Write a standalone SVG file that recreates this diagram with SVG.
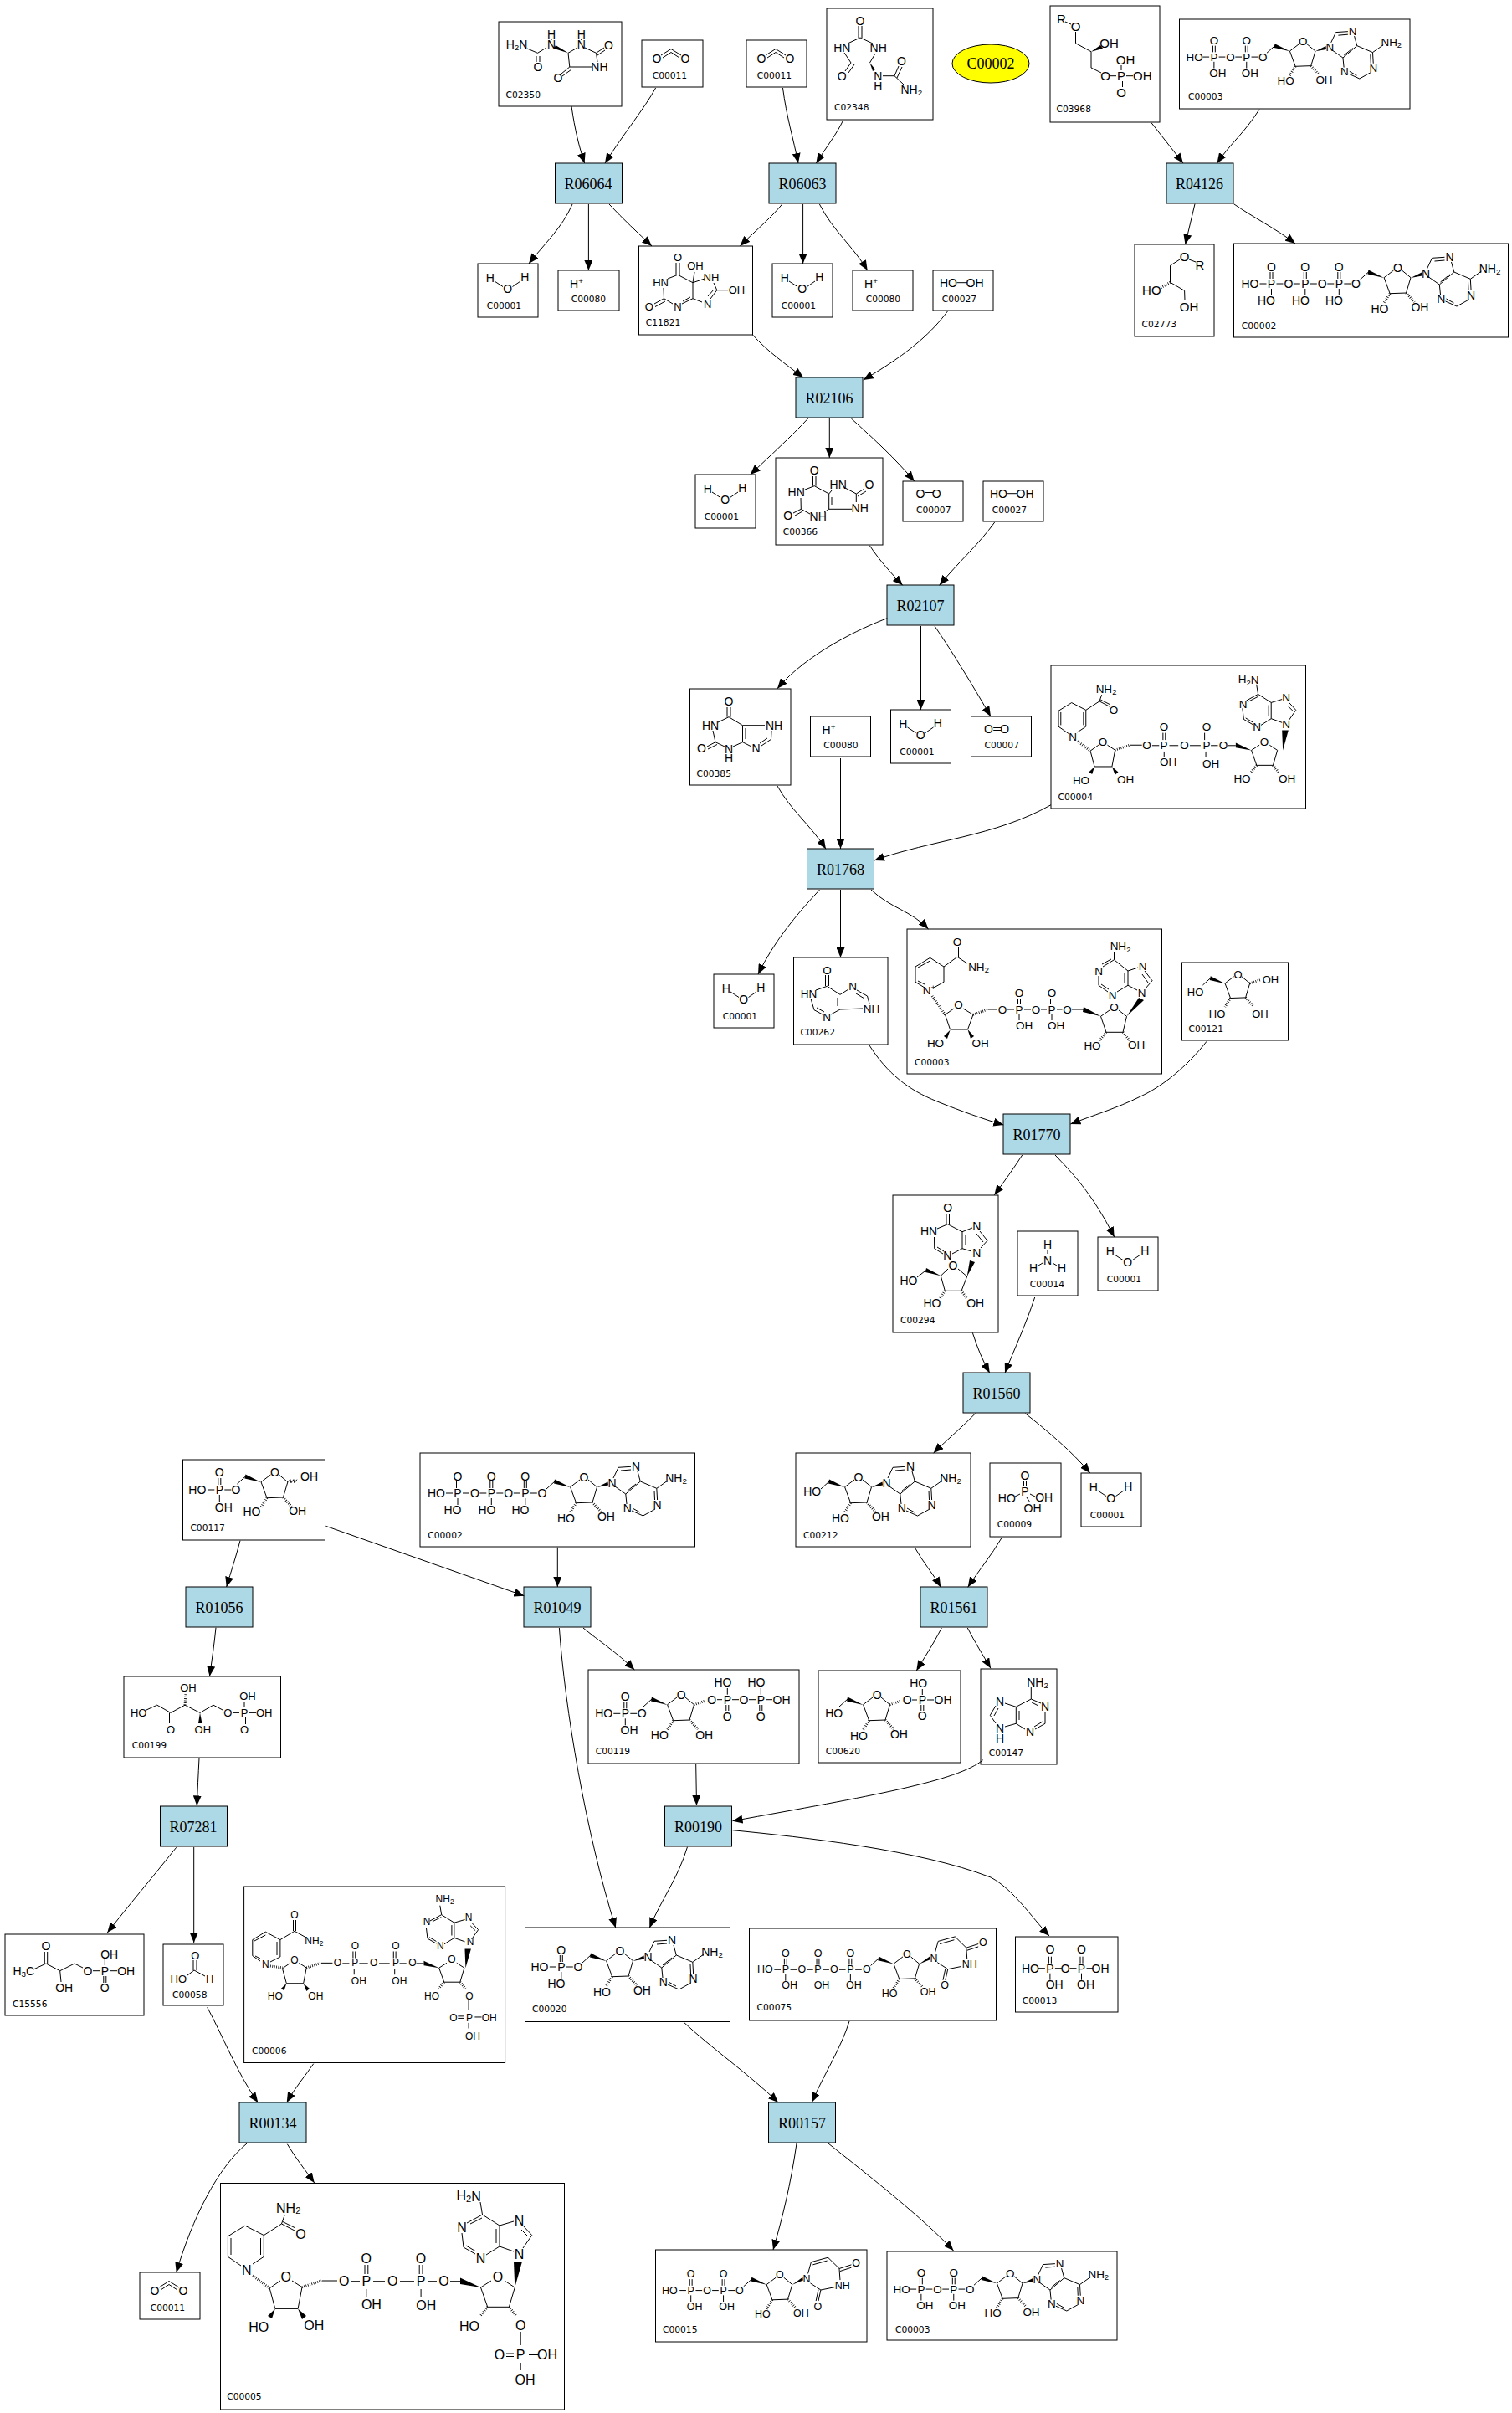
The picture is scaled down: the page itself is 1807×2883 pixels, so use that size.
<svg xmlns="http://www.w3.org/2000/svg" width="1807" height="2883" viewBox="0 0 1807 2883">
<style>
svg{font-size:14px}
.n{fill:#fff;stroke:#000;stroke-width:1}
.r{fill:#add8e6;stroke:#000;stroke-width:1}
.b{fill:none;stroke:#000;stroke-width:1;vector-effect:non-scaling-stroke}
.h{fill:none;stroke:#000;stroke-width:3;stroke-dasharray:.8 1.6;vector-effect:non-scaling-stroke}
.w{fill:#000;stroke:none}
.e{fill:none;stroke:#000;stroke-width:1;marker-end:url(#arr)}
.t{font-family:"Liberation Serif","Times New Roman",serif;font-size:18px;text-anchor:middle;dominant-baseline:central;fill:#000}
.l{font-family:"DejaVu Sans",sans-serif;font-size:10.7px;fill:#000}
.at text{font-family:"Liberation Sans",Arial,sans-serif;text-anchor:middle;dominant-baseline:central;fill:#000}
.s{font-size:.7em}
</style>
<defs>
<marker id="arr" viewBox="0 0 12 10" refX="12" refY="5" markerWidth="12" markerHeight="10" markerUnits="userSpaceOnUse" orient="auto"><path d="M0,0L12,5L0,10Z" fill="#000"/></marker>
<g id="P"><path class="b" d="M-14,0H-6M6,0H14M-1.5,-6V-14M1.5,-6V-14M0,6V14"/></g>
<g id="rib">
<path class="b" d="M151,43L161,34M179.6,40.7L191,32M201,32L211.5,40.7L206,59L186.6,59.7L179.6,40.7"/>
<polygon class="w" points="161,31.5 160,36.5 179.6,41"/>
<path class="h" d="M186.6,59.7L179.5,71M206,59L216,70"/>
</g>
<g id="pur">
<polygon class="w" points="211.5,41 224.5,34.5 225,38.5"/>
<path class="b" d="M231,30L237,17.3L252,16.3M240,21L252,20M260,22L263.3,34L245.8,49L233,40M258,37L247,46M263.3,34L282.8,42.3L296,33M282.8,42.3L283.6,56M280,45L280.5,56M281,67L266.5,75L253,69M263,71L254,66M247,61L245.8,49"/>
</g>
<g id="ura">
<polygon class="w" points="211.5,41 224.5,31.5 225,35.5"/>
<path class="b" d="M231,27L235,12.7L256,7L270,20.8L285,16M271,24L285,19.5M237,16L255,11M270,20.8L271,35M264,44L247,47.4L234,39M247,47.4L244,61M244,47L241,61"/>
</g>
<g id="wat"><path class="b" d="M20,21L30,27.5M41.5,27.5L51,21"/></g>
<g id="co2"><path class="b" d="M23,18L35,10.5L47,18M25,21L35,14.5L45,21"/></g>
<g id="nadh">
<path class="b" d="M336.5,2657L340,2647M336.5,2657L352,2665M338,2654.5L353,2662M315.3,2670.6L336.5,2657M315.3,2670.6L292.9,2659.2L272.4,2671.8V2696.3L288,2707M302,2705L315.3,2696.3V2670.6M276,2674V2694M311.5,2674V2694"/>
<path class="h" d="M302,2719L322.2,2733.9"/>
</g>
<g id="nadr">
<path class="b" d="M322.2,2733.9L335,2725M349,2725L361,2732.7L356.1,2758.4H328.8L322.2,2733.9M384.7,2725H403M419,2725.7H430M446,2725.7H460M478,2725.7H495M511,2725.7H522M436,2706V2717M439.8,2706V2717M437.8,2735V2744M501.2,2706V2717M505,2706V2717M503.1,2735V2744M538,2725.7H550M574.5,2733L587,2725M603,2725L615.3,2733L608.4,2756.3H582.7L574.5,2733"/>
<polygon class="w" points="328.8,2758.4 320,2767 325,2770"/>
<polygon class="w" points="356.1,2758.4 361,2771 366,2767"/>
<polygon class="w" points="550,2721.5 550,2729 574.5,2733"/>
<path class="h" d="M361,2732.7L384,2725M582.7,2756.3L574,2767M608.4,2756.3L617,2767"/>
</g>
<g id="nad2p"><path class="b" d="M622.2,2786V2802M622.2,2823V2832M605,2812H614M605,2815.5H614M632,2813.5H643"/></g>
<g id="nada">
<polygon class="w" points="615.3,2733 614,2702 624,2702"/>
<path class="b" d="M574,2631L576.5,2646L558,2656M576,2650L562,2657M552,2668L554,2685L568,2693M557,2683L568,2689.5M581,2694L597,2684V2659M593,2680V2663M597,2659L576.5,2646M597,2659L614,2654M625,2659L635.7,2670.6L625,2686M623,2664L631,2672M614,2690L597,2684"/>
</g>
</defs>
<rect width="1807" height="2883" fill="#fff"/>

<g id="C00002-yellow"><ellipse cx="1184" cy="76" rx="46" ry="23" fill="#ffff00" stroke="#000"/><text class="t" x="1184" y="76">C00002</text></g>

<g id="R06064"><rect class="r" x="663.5" y="195" width="80" height="48"/><text class="t" x="703" y="220">R06064</text></g>
<g id="R06063"><rect class="r" x="919" y="195" width="80" height="48"/><text class="t" x="959" y="220">R06063</text></g>
<g id="R04126"><rect class="r" x="1394" y="195" width="80" height="48"/><text class="t" x="1433.5" y="220">R04126</text></g>
<g id="R02106"><rect class="r" x="951" y="451" width="80" height="48"/><text class="t" x="991" y="476">R02106</text></g>
<g id="R02107"><rect class="r" x="1060" y="699" width="80" height="48"/><text class="t" x="1100" y="724">R02107</text></g>
<g id="R01768"><rect class="r" x="964.5" y="1014" width="80" height="48"/><text class="t" x="1004.5" y="1039">R01768</text></g>
<g id="R01770"><rect class="r" x="1199" y="1331" width="80" height="48"/><text class="t" x="1239" y="1356">R01770</text></g>
<g id="R01560"><rect class="r" x="1151" y="1640" width="80" height="48"/><text class="t" x="1191" y="1665">R01560</text></g>
<g id="R01561"><rect class="r" x="1100" y="1896" width="80" height="48"/><text class="t" x="1140" y="1921">R01561</text></g>
<g id="R01056"><rect class="r" x="222" y="1896" width="80" height="48"/><text class="t" x="262" y="1921">R01056</text></g>
<g id="R01049"><rect class="r" x="626" y="1896" width="80" height="48"/><text class="t" x="666" y="1921">R01049</text></g>
<g id="R07281"><rect class="r" x="191.5" y="2158" width="80" height="48"/><text class="t" x="231" y="2183">R07281</text></g>
<g id="R00190"><rect class="r" x="794.5" y="2158" width="80" height="48"/><text class="t" x="834.5" y="2183">R00190</text></g>
<g id="R00134"><rect class="r" x="286" y="2512" width="80" height="48"/><text class="t" x="326" y="2537">R00134</text></g>
<g id="R00157"><rect class="r" x="918.5" y="2512" width="80" height="48"/><text class="t" x="958.5" y="2537">R00157</text></g>

<g id="C02350"><rect class="n" x="596" y="26" width="147" height="101"/><text class="l" x="604.5" y="117">C02350</text>
<path class="b" d="M630,58L642.5,63.3L653,57M641,67V74M645,67V74M679,63.3L690,57M699,57L712.5,63.3L722,57M714,66L723,60M712.5,63.3L714,74M707,80H680.8L679,63.3M680.8,80L671,88M683,83L672,91M659,46V48M694.7,46V48"/><polygon class="w" points="679,63.3 664,54 662,58"/>
<g class="at"><text x="617.6" y="53.3">H<tspan class="s" dy="3">2</tspan><tspan dy="-3">N</tspan></text><text x="643" y="80">O</text><text x="659" y="53.3">N</text><text x="659" y="40.7">H</text><text x="694.7" y="53.3">N</text><text x="694.7" y="40.7">H</text><text x="727.5" y="54">O</text><text x="716.4" y="80.3">NH</text><text x="667" y="93.3">O</text></g></g>

<g id="C00011-a" transform="translate(767,48)"><rect class="n" width="73" height="56"/><text class="l" x="12.7" y="46">C00011</text><use href="#co2"/><g class="at"><text x="18" y="22">O</text><text x="52" y="22">O</text></g></g>
<g id="C00011-b" transform="translate(892,48)"><rect class="n" width="72" height="56"/><text class="l" x="12.7" y="46">C00011</text><use href="#co2"/><g class="at"><text x="18" y="22">O</text><text x="52" y="22">O</text></g></g>
<g id="C00011-c" transform="translate(167,2715)"><rect class="n" width="72" height="56"/><text class="l" x="12.7" y="46">C00011</text><use href="#co2"/><g class="at"><text x="18" y="22">O</text><text x="52" y="22">O</text></g></g>

<g id="C02348"><rect class="n" x="988" y="10" width="127" height="133"/><text class="l" x="997" y="131.7">C02348</text>
<path class="b" d="M1026,31V45M1030,31V45M1028,45L1013,52M1028,45L1043,52M1009,63L1017,75L1010,85M1021,77L1014,87M1046,64L1039.5,75M1055,90.7H1069L1074,79M1072,93L1078,80M1069,90.7L1080,101"/><polygon class="w" points="1039.5,75 1046,83 1043,85"/>
<g class="at"><text x="1028" y="25">O</text><text x="1006.3" y="57.3">HN</text><text x="1049.7" y="57.3">NH</text><text x="1006.3" y="90.7">O</text><text x="1049.4" y="90.7">N</text><text x="1049.4" y="102.7">H</text><text x="1077.4" y="73.3">O</text><text x="1089.3" y="106.7">NH<tspan class="s" dy="3">2</tspan></text></g></g>

<g id="C03968" transform="translate(-1,0)"><rect class="n" x="1256" y="7" width="131" height="139"/><text class="l" x="1263.5" y="134.3">C03968</text>
<path class="b" d="M1274,26L1281,29M1286.5,38V51.7L1305,61.7V81L1317,87M1328,90.7H1335M1347,90.7H1355M1341,84V78M1339.5,97V104M1342.5,97V104"/><polygon class="w" points="1305,61.7 1316,54 1319,58"/>
<g class="at" font-size="15"><text x="1269.3" y="22.3">R</text><text x="1286.5" y="31.7">O</text><text x="1326.6" y="51.7">OH</text><text x="1322" y="90.7">O</text><text x="1341" y="90.7">P</text><text x="1346" y="71.7">OH</text><text x="1366.3" y="90.7">OH</text><text x="1341" y="110.7">O</text></g></g>

<g id="C00003-top" transform="translate(-2,0)"><rect class="n" x="1411.5" y="23" width="275.5" height="107"/><text class="l" x="1422" y="119.3">C00003</text>
<g transform="translate(1371,22) scale(.96)"><use href="#P" x="85.3" y="48"/><use href="#P" x="125.8" y="48"/><use href="#rib"/><use href="#pur"/>
<g class="at"><text x="61" y="48">HO</text><text x="85.3" y="48">P</text><text x="85.3" y="28">O</text><text x="90" y="68">OH</text><text x="105.6" y="48">O</text><text x="125.8" y="48">P</text><text x="125.8" y="28">O</text><text x="130" y="68">OH</text><text x="146" y="48">O</text><text x="196" y="29">O</text><text x="229.5" y="35.7">N</text><text x="258" y="16.3">N</text><text x="306" y="29.7">NH<tspan class="s" dy="3">2</tspan></text><text x="283.6" y="62.3">N</text><text x="247.8" y="66.3">N</text><text x="174.5" y="78">HO</text><text x="222.4" y="76.3">OH</text></g></g></g>

<g id="C00001-a" transform="translate(571,315)"><rect class="n" width="72" height="64"/><text class="l" x="10.7" y="54">C00001</text><use href="#wat"/><g class="at"><text x="14.7" y="17">H</text><text x="35.7" y="29.7">O</text><text x="56.3" y="16.3">H</text></g></g>
<g id="C00001-b" transform="translate(923,315)"><rect class="n" width="72" height="64"/><text class="l" x="10.7" y="54">C00001</text><use href="#wat"/><g class="at"><text x="14.7" y="17">H</text><text x="35.7" y="29.7">O</text><text x="56.3" y="16.3">H</text></g></g>
<g id="C00001-c" transform="translate(831,567)"><rect class="n" width="72" height="64"/><text class="l" x="10.7" y="54">C00001</text><use href="#wat"/><g class="at"><text x="14.7" y="17">H</text><text x="35.7" y="29.7">O</text><text x="56.3" y="16.3">H</text></g></g>
<g id="C00001-d" transform="translate(1064.5,848)"><rect class="n" width="72" height="64"/><text class="l" x="10.7" y="54">C00001</text><use href="#wat"/><g class="at"><text x="14.7" y="17">H</text><text x="35.7" y="29.7">O</text><text x="56.3" y="16.3">H</text></g></g>
<g id="C00001-e" transform="translate(853,1164)"><rect class="n" width="72" height="64"/><text class="l" x="10.7" y="54">C00001</text><use href="#wat"/><g class="at"><text x="14.7" y="17">H</text><text x="35.7" y="29.7">O</text><text x="56.3" y="16.3">H</text></g></g>
<g id="C00001-f" transform="translate(1312,1478)"><rect class="n" width="72" height="64"/><text class="l" x="10.7" y="54">C00001</text><use href="#wat"/><g class="at"><text x="14.7" y="17">H</text><text x="35.7" y="29.7">O</text><text x="56.3" y="16.3">H</text></g></g>
<g id="C00001-g" transform="translate(1292,1760)"><rect class="n" width="72" height="64"/><text class="l" x="10.7" y="54">C00001</text><use href="#wat"/><g class="at"><text x="14.7" y="17">H</text><text x="35.7" y="29.7">O</text><text x="56.3" y="16.3">H</text></g></g>

<g id="C00080-a" transform="translate(667,323)"><rect class="n" width="73" height="48"/><text class="l" x="15.7" y="37.7">C00080</text><g class="at"><text x="22" y="16">H<tspan class="s" dy="-4">+</tspan></text></g></g>
<g id="C00080-b" transform="translate(1019,323)"><rect class="n" width="72" height="48"/><text class="l" x="15.7" y="37.7">C00080</text><g class="at"><text x="22" y="16">H<tspan class="s" dy="-4">+</tspan></text></g></g>
<g id="C00080-c" transform="translate(968.5,856)"><rect class="n" width="72" height="48"/><text class="l" x="15.7" y="37.7">C00080</text><g class="at"><text x="22" y="16">H<tspan class="s" dy="-4">+</tspan></text></g></g>

<g id="C00027-a" transform="translate(1115,323)"><rect class="n" width="72" height="48"/><text class="l" x="10.7" y="37.7">C00027</text><path class="b" d="M28.5,14.7H41"/><g class="at"><text x="18.5" y="14.7">HO</text><text x="50" y="14.7">OH</text></g></g>
<g id="C00027-b" transform="translate(1175,575)"><rect class="n" width="72" height="48"/><text class="l" x="10.7" y="37.7">C00027</text><path class="b" d="M28.5,14.7H41"/><g class="at"><text x="18.5" y="14.7">HO</text><text x="50" y="14.7">OH</text></g></g>
<g id="C00007-a" transform="translate(1079,575)"><rect class="n" width="72" height="48"/><text class="l" x="16" y="37.7">C00007</text><path class="b" d="M26.7,13.5H36M26.7,16.5H36"/><g class="at"><text x="21" y="15">O</text><text x="40.3" y="15">O</text></g></g>
<g id="C00007-b" transform="translate(1160.5,856)"><rect class="n" width="72" height="48"/><text class="l" x="16" y="37.7">C00007</text><path class="b" d="M26.7,13.5H36M26.7,16.5H36"/><g class="at"><text x="21" y="15">O</text><text x="40.3" y="15">O</text></g></g>

<g id="C11821"><rect class="n" x="763.5" y="294" width="136" height="106"/><text class="l" x="771.8" y="389">C11821</text>
<path class="b" d="M808,314V328M812,314V328M810,328.3L798,333M793,344L793.5,356.7L782,363M795,360L783,366.5M793.5,356.7L804,363M815,363L828,356.7M816,360L825,355M828,356.7V337.7L810,328.3M828,337.7L842,333M853,338L856.8,346.7L849,357M853,346L846,354M839,361L828,356.7M856.8,346.7H870M828,337.7L830,325"/>
<g class="at" font-size="13"><text x="810" y="307.3">O</text><text x="789.6" y="337.7">HN</text><text x="775.7" y="366.7">O</text><text x="810" y="366.7">N</text><text x="831" y="317.3">OH</text><text x="850" y="331.7">NH</text><text x="880.5" y="346.7">OH</text><text x="845.7" y="363.3">N</text></g></g>

<g id="C02773" transform="translate(-1,0)"><rect class="n" x="1357" y="292" width="95" height="110"/><text class="l" x="1365.6" y="390.7">C02773</text>
<path class="b" d="M1422,310L1430,313M1411,310L1399.5,317.3V337.3L1416.6,347.3L1417,359"/><path class="h" d="M1399.5,337.3L1388,344"/>
<g class="at" font-size="15"><text x="1416.6" y="306.7">O</text><text x="1435" y="316.7">R</text><text x="1377.3" y="346.7">HO</text><text x="1422" y="366.7">OH</text></g></g>

<g id="C00002-top" transform="translate(1474.5,291)"><rect class="n" width="328" height="112"/><text class="l" x="9.3" y="101.7">C00002</text><use href="#P" x="45" y="48"/><use href="#P" x="85.3" y="48"/><use href="#P" x="125.8" y="48"/><use href="#rib"/><use href="#pur"/>
<g class="at" font-size="14"><text x="19.5" y="48">HO</text><text x="45" y="48">P</text><text x="45" y="28">O</text><text x="39" y="68">HO</text><text x="65.4" y="48">O</text><text x="85.3" y="48">P</text><text x="85.3" y="28">O</text><text x="80" y="68">HO</text><text x="105.6" y="48">O</text><text x="125.8" y="48">P</text><text x="125.8" y="28">O</text><text x="120" y="68">HO</text><text x="146" y="48">O</text><text x="196" y="29">O</text><text x="229.5" y="35.7">N</text><text x="258" y="16.3">N</text><text x="306" y="29.7">NH<tspan class="s" dy="3">2</tspan></text><text x="283.6" y="62.3">N</text><text x="247.8" y="66.3">N</text><text x="174.5" y="78">HO</text><text x="222.4" y="76.3">OH</text></g></g>

<g id="C00366"><rect class="n" x="927" y="547" width="128" height="104"/><text class="l" x="935.7" y="639.3">C00366</text>
<path class="b" d="M971.5,569V580.7M975,569V580.7M973.3,580.7L962,585M957,595L957.3,608.3L948,613M959,611L950,616M957.3,608.3L968,614M985,612L990.7,608.3V590L973.3,580.7M994,594V603M990.7,590L994,586M1010,583L1023.3,590L1033,584M1025,593L1035,587M1023.3,590V600M1018,608.3H990.7"/>
<g class="at"><text x="973.3" y="562.3">O</text><text x="951.7" y="587.7">HN</text><text x="941.7" y="616">O</text><text x="977.7" y="616.7">NH</text><text x="1001.7" y="579.3">HN</text><text x="1039" y="579.3">O</text><text x="1027.7" y="606.7">NH</text></g></g>

<g id="C00385"><rect class="n" x="824.5" y="823" width="120.5" height="115"/><text class="l" x="832.5" y="927.7">C00385</text>
<path class="b" d="M869,845V856.7M873,845V856.7M871,856.7L858,863M852,873L855,886.7L845,892M857,889.5L846,895M855,886.7L866,892M876,892L887.5,886.7V866.7L871,856.7M891,883V870M887.5,866.7H914M922,873L921.5,883.3L910,891M917,882L908,888M898,892L887.5,886.7"/>
<g class="at"><text x="871" y="838.3">O</text><text x="849" y="866.7">HN</text><text x="838.5" y="894">O</text><text x="871" y="895">N</text><text x="871" y="906">H</text><text x="925" y="866.7">NH</text><text x="903.5" y="894.3">N</text></g></g>

<g id="C00004" transform="translate(-3,0)"><rect class="n" x="1259" y="795" width="304.5" height="171"/><text class="l" x="1267.5" y="955.7">C00004</text>
<g transform="matrix(.763 0 0 .77 1060.2 -1208)"><use href="#nadh"/><use href="#nadr"/></g>
<g transform="matrix(.763 0 0 .77 1066.7 -1208)"><use href="#nada"/></g>
<g class="at" font-size="13.5"><text x="1325" y="823">NH<tspan class="s" dy="3">2</tspan></text><text x="1334" y="848.3">O</text><text x="1285" y="880">N</text><text x="1321" y="886.7">O</text><text x="1295" y="932.7">HO</text><text x="1348" y="931.7">OH</text><text x="1373.5" y="890">O</text><text x="1394" y="890">P</text><text x="1418.5" y="890">O</text><text x="1445" y="890">P</text><text x="1465" y="890">O</text><text x="1394" y="868.3">O</text><text x="1445" y="868.3">O</text><text x="1399" y="910.7">OH</text><text x="1450" y="912.3">OH</text><text x="1514" y="886">O</text><text x="1487.5" y="930">HO</text><text x="1541" y="930">OH</text><text x="1495" y="811.7">H<tspan class="s" dy="3">2</tspan><tspan dy="-3">N</tspan></text><text x="1488.5" y="841">N</text><text x="1505" y="868.3">N</text><text x="1540" y="833.3">N</text><text x="1540" y="865">N</text></g></g>

<g id="C00262" transform="translate(-1,0)"><rect class="n" x="949.5" y="1144" width="112.5" height="104"/><text class="l" x="957.5" y="1237.3">C00262</text>
<path class="b" d="M987.5,1165V1178M991.5,1165V1178M989.5,1178.3L976,1183M970,1193L974,1206.7L984,1212M977,1204L986,1209M994,1212L1005,1206L1032,1205M989.5,1178.3L1005,1188.3L1015,1182M1025,1183L1037.5,1190L1040,1199M1024,1187L1034,1193M1002,1192V1202"/>
<g class="at" font-size="13.5"><text x="989.5" y="1159">O</text><text x="967.5" y="1187.3">HN</text><text x="989" y="1215">N</text><text x="1020" y="1178.3">N</text><text x="1042.5" y="1205">NH</text></g></g>

<g id="C00003-nad" transform="translate(-2,0)"><rect class="n" x="1086" y="1110" width="304.5" height="173"/><text class="l" x="1095" y="1272.7">C00003</text>
<path class="b" d="M1144.5,1132V1143M1147.5,1132V1143M1146,1143.3L1158,1151M1146,1143.3L1130,1155L1113.5,1144.3L1096,1155V1173.3L1107,1180M1118,1180L1130,1173.3V1155M1099,1156L1113.5,1148M1099,1172L1107,1176M1126.5,1157V1171M1131.5,1212.3L1142,1205M1153,1205L1165,1212.3L1158.5,1230H1137.5L1131.5,1212.3M1182.5,1206H1194M1206,1206H1214M1226,1206H1234M1246,1206H1253M1265,1206H1271.5M1218.5,1193V1200M1221.5,1193V1200M1257.5,1193V1200M1260.5,1193V1200M1220,1212V1219M1259,1212V1219M1283,1206H1297.5M1317.5,1214.3L1328,1207M1339,1207L1348.5,1214.3L1344,1233.3H1324L1317.5,1214.3M1333.5,1146.7V1137M1333.5,1146.7L1320,1155M1330,1146L1319,1152M1315,1166V1177.3L1326,1185M1318,1176L1327,1182M1337,1185L1350,1177.3V1160L1333.5,1146.7M1346,1174V1163M1350,1160L1362,1156M1370,1160L1379,1171.7L1371,1181M1367,1164L1374,1174M1361,1183L1350,1177.3"/>
<path class="h" d="M1116,1190L1131.5,1212.3M1165,1212.3L1182.5,1206M1324,1233.3L1316,1243M1344,1233.3L1352,1243"/>
<polygon class="w" points="1137.5,1230.7 1130,1238 1134,1241"/><polygon class="w" points="1158.5,1230 1162,1241 1166,1238"/><polygon class="w" points="1297,1203 1296,1209 1317.5,1214.3"/><polygon class="w" points="1348.5,1214.3 1363,1192 1369,1195"/>
<g class="at" font-size="13.5"><text x="1146" y="1125">O</text><text x="1171.5" y="1155">NH<tspan class="s" dy="3">2</tspan></text><text x="1112.5" y="1183.3">N<tspan class="s" dy="-4">+</tspan></text><text x="1147.5" y="1200.7">O</text><text x="1120" y="1246">HO</text><text x="1173.5" y="1246">OH</text><text x="1200" y="1206">O</text><text x="1220" y="1206">P</text><text x="1240" y="1206">O</text><text x="1259" y="1206">P</text><text x="1277.5" y="1206">O</text><text x="1220" y="1186.7">O</text><text x="1259" y="1186.7">O</text><text x="1226" y="1225">OH</text><text x="1264" y="1225">OH</text><text x="1333.5" y="1203.3">O</text><text x="1307.5" y="1249.3">HO</text><text x="1360" y="1248.3">OH</text><text x="1341" y="1130.7">NH<tspan class="s" dy="3">2</tspan></text><text x="1315" y="1160">N</text><text x="1331.5" y="1189.3">N</text><text x="1367.5" y="1154.3">N</text><text x="1366.5" y="1186">N</text></g></g>

<g id="C00121" transform="translate(-3,0)"><rect class="n" x="1415.5" y="1150" width="127" height="93"/><text class="l" x="1423.5" y="1232.7">C00121</text>
<g transform="translate(1300,1137) scale(.93)"><use href="#rib"/><path class="h" d="M211.5,40.7L226,36"/></g>
<g class="at" font-size="13"><text x="1482.5" y="1164">O</text><text x="1521.5" y="1170">OH</text><text x="1431.5" y="1185.7">HO</text><text x="1457.5" y="1211">HO</text><text x="1509" y="1211">OH</text></g></g>

<g id="C00294"><rect class="n" x="1067" y="1428" width="126" height="164"/><text class="l" x="1076" y="1580.7">C00294</text>
<path class="b" d="M1131,1450V1462.7M1134.5,1450V1462.7M1132.7,1462.7L1120,1468M1116.5,1478L1116.7,1491.7L1127,1498M1120,1490L1128,1495M1138,1498L1150,1491.7V1471.7L1132.7,1462.7M1154,1488V1476M1150,1471.7L1162,1467M1171,1471L1180,1482.3L1172,1491M1167,1474L1175,1484M1161,1495L1150,1491.7M1124.3,1524.3L1133,1516M1145,1516L1155.7,1525L1149,1542.3H1129.3L1124.3,1524.3M1106.7,1517.7L1096,1526"/>
<polygon class="w" points="1155.7,1525 1159,1506 1165,1508"/><polygon class="w" points="1124.3,1524.3 1107,1515 1106,1520"/>
<path class="h" d="M1129.3,1542.3L1123,1552M1149,1542.3L1156,1552"/>
<g class="at"><text x="1132.7" y="1443.3">O</text><text x="1110" y="1471">HN</text><text x="1132.3" y="1500">N</text><text x="1167.3" y="1465">N</text><text x="1167.3" y="1497.3">N</text><text x="1139" y="1511.7">O</text><text x="1086" y="1530">HO</text><text x="1114" y="1556.7">HO</text><text x="1165.7" y="1556.7">OH</text></g></g>

<g id="C00014"><rect class="n" x="1216" y="1471" width="72" height="77"/><text class="l" x="1230.7" y="1537.7">C00014</text>
<path class="b" d="M1252,1493V1498M1246,1509L1241,1512M1258,1509L1263,1512"/>
<g class="at"><text x="1252" y="1486.7">H</text><text x="1252" y="1505.7">N</text><text x="1235" y="1515">H</text><text x="1269" y="1515">H</text></g></g>

<g id="C00117"><rect class="n" x="218.5" y="1744" width="170" height="96"/><text class="l" x="227.4" y="1829.3">C00117</text>
<use href="#P" x="262.3" y="1780"/><g transform="translate(132.4,1730)"><use href="#rib"/><path class="b" d="M211.5,40.7l3,-3l1,4l3,-4l1,4l3,-4"/></g>
<g class="at"><text x="235.8" y="1780">HO</text><text x="262.3" y="1780">P</text><text x="262.3" y="1759">O</text><text x="267.3" y="1801">OH</text><text x="282" y="1780">O</text><text x="328.4" y="1759">O</text><text x="369.6" y="1764">OH</text><text x="301" y="1806">HO</text><text x="355.7" y="1805">OH</text></g></g>

<g id="C00002-mid" transform="translate(502,1736)"><rect class="n" width="328.5" height="112"/><text class="l" x="9.3" y="101.7">C00002</text><use href="#P" x="45" y="48"/><use href="#P" x="85.3" y="48"/><use href="#P" x="125.8" y="48"/><use href="#rib"/><use href="#pur"/>
<g class="at"><text x="19.5" y="48">HO</text><text x="45" y="48">P</text><text x="45" y="28">O</text><text x="39" y="68">HO</text><text x="65.4" y="48">O</text><text x="85.3" y="48">P</text><text x="85.3" y="28">O</text><text x="80" y="68">HO</text><text x="105.6" y="48">O</text><text x="125.8" y="48">P</text><text x="125.8" y="28">O</text><text x="120" y="68">HO</text><text x="146" y="48">O</text><text x="196" y="29">O</text><text x="229.5" y="35.7">N</text><text x="258" y="16.3">N</text><text x="306" y="29.7">NH<tspan class="s" dy="3">2</tspan></text><text x="283.6" y="62.3">N</text><text x="247.8" y="66.3">N</text><text x="174.5" y="78">HO</text><text x="222.4" y="76.3">OH</text></g></g>

<g id="C00212"><rect class="n" x="951" y="1736" width="209" height="112"/><text class="l" x="960" y="1837.7">C00212</text>
<g transform="translate(830,1736)"><use href="#rib"/><use href="#pur"/><g class="at"><text x="140.7" y="45.7">HO</text><text x="196" y="29">O</text><text x="229.5" y="35.7">N</text><text x="258" y="16.3">N</text><text x="306" y="29.7">NH<tspan class="s" dy="3">2</tspan></text><text x="283.6" y="62.3">N</text><text x="247.8" y="66.3">N</text><text x="174.5" y="78">HO</text><text x="222.4" y="76.3">OH</text></g></g></g>

<g id="C00009"><rect class="n" x="1183" y="1748" width="85" height="88"/><text class="l" x="1191.7" y="1825">C00009</text>
<path class="b" d="M1223.5,1769V1776M1226.5,1769V1776M1219,1785L1213,1788M1231,1785L1237,1788M1227,1789L1231,1795"/>
<g class="at"><text x="1225" y="1762.7">O</text><text x="1225" y="1782.3">P</text><text x="1203.3" y="1790">HO</text><text x="1247.7" y="1789">OH</text><text x="1234" y="1801.7">OH</text></g></g>

<g id="C00620"><rect class="n" x="978" y="1996" width="170" height="110"/><text class="l" x="986.7" y="2095.7">C00620</text>
<g transform="translate(852,1996)"><use href="#rib"/><path class="h" d="M211.5,40.7L225,36"/></g>
<path class="b" d="M1090,2031H1096M1108,2031H1116M1102.3,2025V2018M1100.8,2037V2044M1103.8,2037V2044"/>
<g class="at"><text x="996.7" y="2046.7">HO</text><text x="1048.3" y="2025">O</text><text x="1026.5" y="2074">HO</text><text x="1074.4" y="2072.3">OH</text><text x="1084.3" y="2031">O</text><text x="1102.3" y="2031">P</text><text x="1097.7" y="2011">HO</text><text x="1127" y="2031">OH</text><text x="1102.3" y="2050">O</text></g></g>

<g id="C00147"><rect class="n" x="1172" y="1994" width="91" height="114"/><text class="l" x="1181.7" y="2098.3">C00147</text>
<path class="b" d="M1232.3,2016V2030L1244,2035M1233,2034L1241,2038M1249,2046V2059.3L1237,2066M1246,2057L1236,2063M1225,2066L1214.3,2059.3V2039.3L1232.3,2030M1218,2055V2044M1214.3,2039.3L1201,2035M1190,2038L1183.3,2049.3L1190,2059M1193,2041L1188,2050M1201,2063L1214.3,2059.3"/>
<g class="at"><text x="1240" y="2010">NH<tspan class="s" dy="3">2</tspan></text><text x="1249" y="2039.3">N</text><text x="1231" y="2069">N</text><text x="1195" y="2033.3">N</text><text x="1195" y="2065">N</text><text x="1195" y="2076.7">H</text></g></g>

<g id="C00199"><rect class="n" x="148" y="2003" width="187.5" height="97"/><text class="l" x="157.7" y="2089">C00199</text>
<path class="b" d="M175,2043L187.7,2037.2L204,2046.4L221,2037.2L239,2046.4L255,2037.2L266,2043M202.5,2046.4V2059M205.5,2046.4V2059M278,2046.4H286M298,2046.4H306M292,2040V2033M290.5,2052V2060M293.5,2052V2060"/>
<path class="h" d="M221,2037.2L222,2024"/><polygon class="w" points="239,2046.4 237,2059 241.5,2059"/>
<g class="at" font-size="13"><text x="165.7" y="2046.4">HO</text><text x="204" y="2066.3">O</text><text x="225" y="2016.4">OH</text><text x="242.3" y="2066.3">OH</text><text x="272.3" y="2046.4">O</text><text x="292" y="2046.4">P</text><text x="296" y="2026">OH</text><text x="315.7" y="2046.4">OH</text><text x="292" y="2066.3">O</text></g></g>

<g id="C00119"><rect class="n" x="703" y="1995" width="252" height="112"/><text class="l" x="711.7" y="2096">C00119</text>
<use href="#P" x="747.3" y="2047.3"/><g transform="translate(618,1996)"><use href="#rib"/><path class="h" d="M211.5,40.7L225,36"/></g>
<path class="b" d="M857,2030.7H863M875,2030.7H883M895,2030.7H903M915,2030.7H923M869.3,2024.7V2017M909.3,2024.7V2017M867.8,2037V2044M870.8,2037V2044M907.8,2037V2044M910.8,2037V2044"/>
<g class="at"><text x="721.7" y="2047.3">HO</text><text x="747.3" y="2047.3">P</text><text x="747.3" y="2027.3">O</text><text x="752" y="2066.7">OH</text><text x="767.3" y="2047.3">O</text><text x="814.3" y="2025">O</text><text x="788.3" y="2072.7">HO</text><text x="841.7" y="2072.7">OH</text><text x="850.7" y="2030.7">O</text><text x="869.3" y="2030.7">P</text><text x="889" y="2030.7">O</text><text x="909.3" y="2030.7">P</text><text x="934" y="2030.7">OH</text><text x="864" y="2010">HO</text><text x="904" y="2010">HO</text><text x="869.3" y="2050.7">O</text><text x="909.3" y="2050.7">O</text></g></g>

<g id="C15556"><rect class="n" x="6" y="2311" width="166" height="97"/><text class="l" x="15" y="2398">C15556</text>
<path class="b" d="M40,2353L55,2346L71.7,2354.7L89,2346L99,2351M53.3,2332V2346M56.7,2332V2346M71.7,2354.7L73,2368M111,2354.7H119M131,2354.7H140M125.3,2348V2341M123.8,2361V2369M126.8,2361V2369"/>
<g class="at"><text x="28.3" y="2354.7">H<tspan class="s" dy="3">3</tspan><tspan dy="-3">C</tspan></text><text x="55" y="2325">O</text><text x="76.7" y="2375">OH</text><text x="105" y="2354.7">O</text><text x="125.3" y="2354.7">P</text><text x="130.7" y="2334.8">OH</text><text x="150.7" y="2354.7">OH</text><text x="125.3" y="2375">O</text></g></g>

<g id="C00058"><rect class="n" x="195" y="2323" width="72" height="73"/><text class="l" x="206" y="2387">C00058</text>
<path class="b" d="M231,2342V2354M235,2342V2354M224,2360L232,2354L245,2361"/>
<g class="at" font-size="13"><text x="233.3" y="2336.3">O</text><text x="213.3" y="2364.4">HO</text><text x="250.7" y="2364.4">H</text></g></g>

<g id="C00006"><rect class="n" x="291.6" y="2254" width="312" height="210.5"/><text class="l" x="301" y="2454.3">C00006</text>
<path class="b" d="M350.5,2294V2307M353.5,2294V2307M352,2307.3L366,2315M352,2307.3L334.9,2317.6L317.3,2308.2L301.8,2317.6V2336.7L311,2343M323,2344L334.9,2338V2317.6M304,2319L317.3,2312M305,2337L311,2340M331,2320V2336"/>
<path class="h" d="M323,2349L337.8,2351"/>
<g transform="matrix(.742 0 0 .73 98.4 356.1)"><use href="#nadr"/><use href="#nad2p"/></g>
<g transform="matrix(.742 0 0 .73 99.9 356.1)"><use href="#nada"/></g>
<g class="at" font-size="12"><text x="352" y="2287.8">O</text><text x="375.3" y="2318.8">NH<tspan class="s" dy="3">2</tspan></text><text x="317.3" y="2347">N</text><text x="352" y="2342">O</text><text x="328.8" y="2385.3">HO</text><text x="377.3" y="2384.5">OH</text><text x="403.5" y="2345.3">O</text><text x="424.3" y="2345.3">P</text><text x="446.7" y="2345.3">O</text><text x="472.9" y="2345.3">P</text><text x="492.9" y="2345.3">O</text><text x="424.3" y="2324.5">O</text><text x="472.9" y="2324.5">O</text><text x="428.8" y="2366.5">OH</text><text x="477.3" y="2367.3">OH</text><text x="539.8" y="2340.8">O</text><text x="516.1" y="2384.5">HO</text><text x="561" y="2384.5">O</text><text x="561" y="2410.6">P</text><text x="541.8" y="2410.6">O</text><text x="584.7" y="2410.6">OH</text><text x="565" y="2432.7">OH</text><text x="531.6" y="2269.4">NH<tspan class="s" dy="3">2</tspan></text><text x="510" y="2296">N</text><text x="526.3" y="2325">N</text><text x="560.2" y="2290.6">N</text><text x="562.2" y="2320.4">N</text></g></g>

<g id="C00020"><rect class="n" x="627.5" y="2303" width="245" height="112.5"/><text class="l" x="636" y="2404">C00020</text>
<g transform="translate(545,2302)"><use href="#P" x="125.8" y="48"/><use href="#rib"/><use href="#pur"/><g class="at"><text x="100" y="48">HO</text><text x="125.8" y="48">P</text><text x="125.8" y="28">O</text><text x="120" y="68">HO</text><text x="146" y="48">O</text><text x="196" y="29">O</text><text x="229.5" y="35.7">N</text><text x="258" y="16.3">N</text><text x="306" y="29.7">NH<tspan class="s" dy="3">2</tspan></text><text x="283.6" y="62.3">N</text><text x="247.8" y="66.3">N</text><text x="174.5" y="78">HO</text><text x="222.4" y="76.3">OH</text></g></g></g>

<g id="C00075" transform="translate(-2,0)"><rect class="n" x="897.5" y="2304" width="295" height="110"/><text class="l" x="906.6" y="2402">C00075</text>
<g transform="translate(897.6,2307.2) scale(.96)"><use href="#P" x="45" y="48"/><use href="#P" x="85.3" y="48"/><use href="#P" x="125.8" y="48"/><use href="#rib"/><use href="#ura"/><g class="at" font-size="13"><text x="19.5" y="48">HO</text><text x="45" y="48">P</text><text x="45" y="28">O</text><text x="50" y="68">OH</text><text x="65.4" y="48">O</text><text x="85.3" y="48">P</text><text x="85.3" y="28">O</text><text x="90" y="68">OH</text><text x="105.6" y="48">O</text><text x="125.8" y="48">P</text><text x="125.8" y="28">O</text><text x="130" y="68">OH</text><text x="146" y="48">O</text><text x="196" y="29">O</text><text x="229.5" y="34">N</text><text x="291" y="14">O</text><text x="274" y="41.9">NH</text><text x="243.3" y="68">O</text><text x="174.5" y="78">HO</text><text x="222.4" y="76.3">OH</text></g></g></g>

<g id="C00013" transform="translate(-3.5,0)"><rect class="n" x="1217" y="2314" width="122.5" height="90"/><text class="l" x="1225.3" y="2394.3">C00013</text>
<use href="#P" x="1258.4" y="2351.7"/><use href="#P" x="1296" y="2351.7"/>
<g class="at"><text x="1235" y="2351.7">HO</text><text x="1258.4" y="2351.7">P</text><text x="1258.4" y="2329">O</text><text x="1263.7" y="2370.7">OH</text><text x="1276.8" y="2351.7">O</text><text x="1296" y="2351.7">P</text><text x="1296" y="2329">O</text><text x="1301" y="2370.7">OH</text><text x="1318.6" y="2351.7">OH</text></g></g>

<g id="C00005"><rect class="n" x="263.5" y="2608.5" width="411" height="270.5"/><text class="l" x="271.2" y="2866.5">C00005</text>
<use href="#nadh"/><use href="#nadr"/><use href="#nad2p"/><use href="#nada"/>
<g class="at" font-size="16"><text x="344.7" y="2638">NH<tspan class="s" dy="3">2</tspan></text><text x="359.4" y="2669.8">O</text><text x="294.9" y="2712.7">N</text><text x="341.8" y="2720.4">O</text><text x="309.2" y="2780">HO</text><text x="375.3" y="2778">OH</text><text x="411.2" y="2725.7">O</text><text x="437.8" y="2725.7">P</text><text x="469.2" y="2725.7">O</text><text x="503.1" y="2725.7">P</text><text x="530.4" y="2725.7">O</text><text x="437.8" y="2698">O</text><text x="503.1" y="2698">O</text><text x="443.9" y="2753.5">OH</text><text x="509.2" y="2754.3">OH</text><text x="594.9" y="2720.4">O</text><text x="561" y="2779.6">HO</text><text x="622.2" y="2778">O</text><text x="622.2" y="2813.5">P</text><text x="597" y="2813.5">O</text><text x="654" y="2813.5">OH</text><text x="627.6" y="2843.3">OH</text><text x="560.2" y="2623.7">H<tspan class="s" dy="3">2</tspan><tspan dy="-3">N</tspan></text><text x="552" y="2661.6">N</text><text x="574.5" y="2698">N</text><text x="620.6" y="2653.5">N</text><text x="620.6" y="2693">N</text></g></g>

<g id="C00015"><rect class="n" x="783.5" y="2688" width="252.5" height="110"/><text class="l" x="792" y="2787">C00015</text>
<g transform="translate(743.8,2690.5) scale(.96)"><use href="#P" x="85.3" y="48"/><use href="#P" x="125.8" y="48"/><use href="#rib"/><use href="#ura"/><g class="at" font-size="13"><text x="59" y="48">HO</text><text x="85.3" y="48">P</text><text x="85.3" y="28">O</text><text x="90" y="68">OH</text><text x="105.6" y="48">O</text><text x="125.8" y="48">P</text><text x="125.8" y="28">O</text><text x="130" y="68">OH</text><text x="146" y="48">O</text><text x="196" y="29">O</text><text x="229.5" y="34">N</text><text x="291" y="14">O</text><text x="274" y="41.9">NH</text><text x="243.3" y="68">O</text><text x="174.5" y="78">HO</text><text x="222.4" y="76.3">OH</text></g></g></g>

<g id="C00003-bot" transform="translate(-2,0)"><rect class="n" x="1062" y="2690" width="275" height="106"/><text class="l" x="1072" y="2786.7">C00003</text>
<g transform="translate(1021,2689) scale(.96)"><use href="#P" x="85.3" y="48"/><use href="#P" x="125.8" y="48"/><use href="#rib"/><use href="#pur"/><g class="at"><text x="61" y="48">HO</text><text x="85.3" y="48">P</text><text x="85.3" y="28">O</text><text x="90" y="68">OH</text><text x="105.6" y="48">O</text><text x="125.8" y="48">P</text><text x="125.8" y="28">O</text><text x="130" y="68">OH</text><text x="146" y="48">O</text><text x="196" y="29">O</text><text x="229.5" y="35.7">N</text><text x="258" y="16.3">N</text><text x="306" y="29.7">NH<tspan class="s" dy="3">2</tspan></text><text x="283.6" y="62.3">N</text><text x="247.8" y="66.3">N</text><text x="174.5" y="78">HO</text><text x="222.4" y="76.3">OH</text></g></g></g>

<g id="connectors">
<path class="e" d="M683,127C687,155 692,175 698.6,195"/>
<path class="e" d="M783.6,105C770,130 745,160 723,195"/>
<path class="e" d="M935.5,105C940,140 948,165 954,195"/>
<path class="e" d="M1007.5,144C1000,160 988,175 975.4,195"/>
<path class="e" d="M684,244C672,272 650,292 632,315"/>
<path class="e" d="M703.4,244V323"/>
<path class="e" d="M728,244C745,262 762,278 779,294"/>
<path class="e" d="M934.7,244C920,262 900,278 884.5,294"/>
<path class="e" d="M959.6,244V315"/>
<path class="e" d="M979.4,244C995,275 1020,295 1036.7,323"/>
<path class="e" d="M899.5,400C915,418 940,436 960,451"/>
<path class="e" d="M1132.4,372C1115,395 1090,420 1031.7,454"/>
<path class="e" d="M1376,146.7L1414,195"/>
<path class="e" d="M1505,130.7C1488,158 1470,172 1454.5,195"/>
<path class="e" d="M1428,243.7L1416.5,292"/>
<path class="e" d="M1474.5,243.7C1498,260 1523,272 1548,291"/>
<path class="e" d="M965.7,500C945,522 920,545 896.7,567"/>
<path class="e" d="M991.3,500V547"/>
<path class="e" d="M1017.3,500C1045,525 1070,548 1092.7,575"/>
<path class="e" d="M1039.3,651.7C1050,668 1065,685 1078.7,699.3"/>
<path class="e" d="M1188.7,624C1170,650 1145,672 1122.7,699.3"/>
<path class="e" d="M1060.3,738.7C1030,750 965,780 929,822.7"/>
<path class="e" d="M1100.5,748V848"/>
<path class="e" d="M1117,748C1139,780 1163,820 1184,856"/>
<path class="e" d="M929,939C945,968 968,985 987,1014.3"/>
<path class="e" d="M1004.5,906V1014"/>
<path class="e" d="M1256,961.7C1188,1000 1114,1003 1045,1028"/>
<path class="e" d="M979.5,1063C950,1095 925,1125 906,1164"/>
<path class="e" d="M1004.5,1063V1144"/>
<path class="e" d="M1041,1063C1064,1085 1089,1088 1109.5,1110"/>
<path class="e" d="M1039,1249C1060,1282 1085,1302 1120,1316C1150,1328 1175,1337 1199.3,1344"/>
<path class="e" d="M1442,1244.3C1418,1275 1389,1298 1363,1310C1335,1324 1305,1333 1279.3,1343"/>
<path class="e" d="M1221.7,1380C1212,1395 1200,1412 1188.3,1427.7"/>
<path class="e" d="M1261,1380C1280,1400 1305,1425 1331.7,1478"/>
<path class="e" d="M1162.3,1592.3C1168,1610 1174,1625 1182.7,1640.3"/>
<path class="e" d="M1236.7,1550C1225,1585 1213,1610 1201,1640.3"/>
<path class="e" d="M1165.7,1688.7C1150,1705 1132,1720 1115.7,1736"/>
<path class="e" d="M1225.3,1688.7C1250,1708 1282,1735 1302.7,1760"/>
<path class="e" d="M1093.3,1849C1102,1865 1115,1880 1124.3,1896.3"/>
<path class="e" d="M1196.7,1838C1185,1858 1170,1876 1156.7,1896.3"/>
<path class="e" d="M1125.3,1945C1115,1965 1105,1980 1095.3,1996"/>
<path class="e" d="M1156.3,1945C1165,1962 1175,1978 1184,1993.3"/>
<path class="e" d="M1174.7,2102.7C1145,2128 1040,2146 875.5,2175.7"/>
<path class="e" d="M287,1840.7C282,1860 276,1878 270.7,1896"/>
<path class="e" d="M389.4,1823.3L626.4,1906.7"/>
<path class="e" d="M666.3,1848.7V1896"/>
<path class="e" d="M258,1944.7C256,1965 253,1985 250.5,2002.7"/>
<path class="e" d="M668.4,1945C675,2040 700,2190 735.8,2303.3"/>
<path class="e" d="M697,1945C715,1960 738,1975 758.3,1995"/>
<path class="e" d="M831.7,2107.7L832.5,2157"/>
<path class="e" d="M821.5,2206.7C810,2245 790,2270 776.3,2303.3"/>
<path class="e" d="M875.5,2186.7C960,2195 1098,2210 1184,2243C1212,2258 1232,2290 1254,2313"/>
<path class="e" d="M816.5,2415.5C850,2447 895,2478 930,2512"/>
<path class="e" d="M1015,2415C1006,2445 984,2480 970,2512"/>
<path class="e" d="M952,2561C945,2610 935,2650 924,2688"/>
<path class="e" d="M990,2561C1039,2600 1103,2650 1139.5,2689"/>
<path class="e" d="M238,2100.7C237,2120 236,2140 235.3,2157.4"/>
<path class="e" d="M210.7,2207.3C183,2242 155,2275 128.3,2309"/>
<path class="e" d="M231.7,2207V2321"/>
<path class="e" d="M247.7,2398.3C265,2430 285,2480 308.3,2512"/>
<path class="e" d="M374.7,2465.7C365,2480 352,2495 342.7,2512"/>
<path class="e" d="M295,2561C260,2590 230,2650 210.7,2715"/>
<path class="e" d="M343.3,2561.7C353,2578 365,2593 375.7,2608"/>
</g>
</svg>
